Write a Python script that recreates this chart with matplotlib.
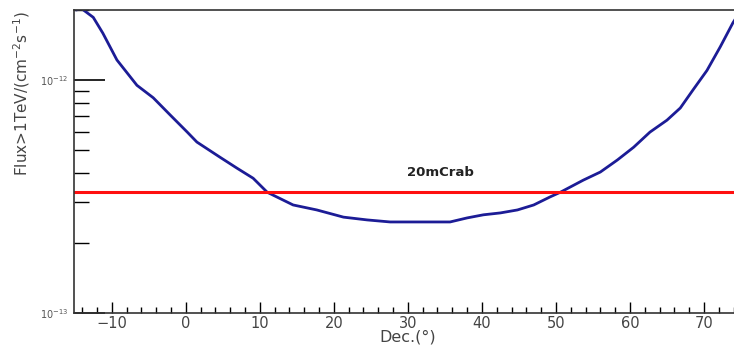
import matplotlib
matplotlib.use("Agg")
import matplotlib.pyplot as plt
import matplotlib.ticker as mticker
import numpy as np

# sensitivity curve
dec = [-14.8, -14.1, -12.5, -11.2, -9.3, -6.6, -4.4, -2.1, 0.2, 1.5, 4.6, 6.9, 9.1, 11.0,
       14.5, 17.7, 21.3, 24.5, 27.6, 32.1, 35.7, 38.0, 40.2, 42.5, 44.8, 47.0, 49.2,
       50.6, 53.7, 56.0, 58.3, 60.5, 62.7, 65.0, 66.8, 68.5, 70.4, 72.2, 73.9, 75.0]
flux = [2.00e-12, 2.03e-12, 1.86e-12, 1.59e-12, 1.22e-12, 9.5e-13, 8.4e-13, 7.08e-13,
        5.98e-13, 5.42e-13, 4.67e-13, 4.19e-13, 3.79e-13, 3.30e-13,
        2.91e-13, 2.77e-13, 2.58e-13, 2.51e-13, 2.46e-13, 2.46e-13, 2.46e-13, 2.56e-13,
        2.64e-13, 2.69e-13, 2.77e-13, 2.91e-13, 3.15e-13,
        3.30e-13, 3.72e-13, 4.03e-13, 4.54e-13, 5.15e-13, 5.98e-13, 6.73e-13, 7.59e-13,
        9.06e-13, 1.10e-12, 1.39e-12, 1.76e-12, 2.0e-12]
crab20 = 3.30e-13
crab_label = "20mCrab"
y_major = [1e-13, 1e-12]
y_minor = [k * 1e-13 for k in range(2, 10)] + [2e-12]

W, H = 734, 352
fig = plt.figure(figsize=(W / 100, H / 100), dpi=100)
# axes run a bit past the right edge, like the cropped original
left, right, top, bottom = 74, 741, 10, 313
ax = fig.add_axes([left / W, 1 - bottom / H, (right - left) / W, (bottom - top) / H])

ax.plot(dec, flux, color="#1c1c96", lw=2.0, solid_capstyle="round")
ax.axhline(crab20, color="#ff1010", lw=2.2)
ax.text(34.4, 4.0e-13, crab_label, ha="center", va="center",
        fontsize=9.5, fontweight="bold", color="#222222")

ax.set_yscale("log")
ax.set_xlim(-15.1, 75)
ax.set_ylim(1e-13, 2.0e-12)

ax.xaxis.set_major_locator(mticker.MultipleLocator(10))
ax.xaxis.set_minor_locator(mticker.MultipleLocator(2))
ax.yaxis.set_major_locator(mticker.FixedLocator(y_major))
ax.yaxis.set_major_formatter(mticker.LogFormatterSciNotation())
ax.yaxis.set_minor_locator(mticker.FixedLocator(y_minor))
ax.yaxis.set_minor_formatter(mticker.NullFormatter())

ax.tick_params(axis="x", which="major", direction="in", length=8, width=1,
               labelsize=10.5, labelcolor="#444444", pad=2)
ax.tick_params(axis="x", which="minor", direction="in", length=4, width=1)
ax.tick_params(axis="y", which="major", direction="in", length=22, width=1.2,
               labelsize=7, labelcolor="#555555", pad=4)
ax.tick_params(axis="y", which="minor", direction="in", length=11, width=1)

for s in ["left", "bottom", "top"]:
    ax.spines[s].set_color("#333333")
    ax.spines[s].set_linewidth(1.2)
ax.spines["right"].set_visible(False)

ax.set_xlabel("Dec.(°)", fontsize=11.5, color="#444444", labelpad=-1)
fig.text(22 / W, 1 - 11 / H, "Flux>1TeV/(cm$^{-2}$s$^{-1}$)", rotation=90,
         ha="center", va="top", fontsize=11, color="#444444")

fig.savefig("out.png", dpi=100)
